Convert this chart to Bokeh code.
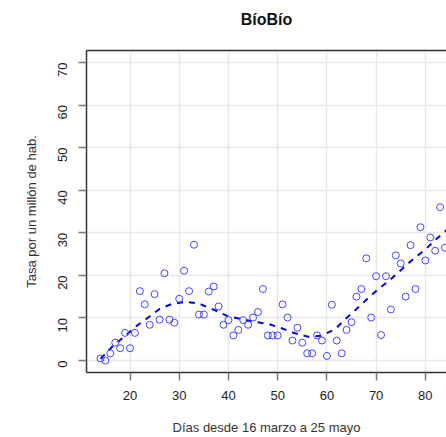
from bokeh.plotting import figure
from bokeh.models import Range1d, LinearAxis, FixedTicker
from bokeh.embed import file_html
from bokeh.resources import INLINE
import math

# Observed daily rate (per million inhabitants), days since 16 March
dias = list(range(14, 85))
tasa = [0.5, 0.0, 1.7, 4.2, 2.9, 6.5, 2.9, 6.5, 16.3, 13.2,
        8.4, 15.6, 9.6, 20.5, 9.6, 8.9, 14.5, 21.1, 16.3, 27.2,
        10.8, 10.8, 16.2, 17.4, 12.7, 8.4, 9.5, 5.9, 7.2, 9.5,
        8.4, 10.1, 11.4, 16.8, 5.9, 5.9, 5.9, 13.2, 10.1, 4.7,
        7.7, 4.2, 1.7, 1.7, 5.9, 4.7, 1.1, 13.1, 4.7, 1.7,
        7.2, 9.0, 15.0, 16.8, 24.0, 10.1, 19.8, 6.0, 19.8, 12.0,
        24.7, 22.8, 15.0, 27.1, 16.8, 31.3, 23.5, 28.9, 25.8, 36.0,
        26.5]

# Smoothed trend
suave_x = [14.0, 16.6, 18.6, 21.4, 23.7, 26.0, 28.5, 31.5, 34.2, 36.9,
           39.7, 42.7, 45.4, 48.1, 50.8, 53.5, 56.2, 58.8, 61.7, 64.0,
           66.4, 68.4, 70.5, 72.8, 74.9, 77.6, 80.0, 82.3, 84.5]
suave_y = [0.4, 3.5, 5.4, 8.2, 10.1, 12.1, 13.3, 13.8, 13.3, 12.0,
           10.5, 9.7, 9.1, 8.6, 7.6, 6.4, 5.6, 5.8, 7.4, 10.0,
           12.5, 14.7, 16.8, 18.9, 21.1, 23.9, 26.1, 28.6, 30.8]

x_ticks = [20, 30, 40, 50, 60, 70, 80]
y_ticks = [0, 10, 20, 30, 40, 50, 60, 70]
titulo = "BíoBío"

FONT = "Liberation Sans"

p = figure(width=446, height=437, output_backend="svg", toolbar_location=None,
           title=None,
           x_range=Range1d(11.16, 84.3), y_range=Range1d(-2.8, 72.8),
           x_axis_location=None, y_axis_location=None,
           min_border_left=86, min_border_right=0, min_border_top=50,
           min_border_bottom=65)
p.outline_line_color = None
p.background_fill_color = "white"
p.border_fill_color = "white"

# grid
p.xgrid.ticker = FixedTicker(ticks=x_ticks)
p.ygrid.ticker = FixedTicker(ticks=y_ticks)
for g in (p.xgrid, p.ygrid):
    g.grid_line_color = "#e8e8e8"
    g.grid_line_width = 1.5

# axes
xa = LinearAxis(ticker=FixedTicker(ticks=x_ticks), axis_label="Días desde 16 marzo a 25 mayo")
ya = LinearAxis(ticker=FixedTicker(ticks=y_ticks), axis_label="Tasa por un millón de hab.")
for ax in (xa, ya):
    ax.axis_line_color = "#333333"
    ax.axis_line_width = 1.5
    ax.major_tick_line_color = "#777777"
    ax.major_tick_line_width = 1.5
    ax.major_tick_out = 8
    ax.major_tick_in = 0
    ax.minor_tick_line_color = None
    ax.major_label_text_font = FONT
    ax.major_label_text_font_size = "13px"
    ax.major_label_text_color = "#222222"
    ax.axis_label_text_font = FONT
    ax.axis_label_text_font_size = "13px"
    ax.axis_label_text_font_style = "normal"
    ax.axis_label_text_color = "#333333"
xa.major_label_standoff = 10
xa.axis_label_standoff = 17
ya.major_label_orientation = math.pi / 2
ya.major_label_standoff = 16
ya.axis_label_standoff = 12
p.add_layout(xa, "below")
p.add_layout(ya, "left")

# top frame line
top = LinearAxis(ticker=FixedTicker(ticks=[]), major_label_text_font_size="0px",
                 major_label_standoff=0, major_tick_out=0, major_tick_in=0)
top.axis_line_color = "#333333"
top.axis_line_width = 1.5
top.major_tick_line_color = None
top.minor_tick_line_color = None
p.add_layout(top, "above")

# title as an (invisible-line) axis label above the frame
tit = LinearAxis(ticker=FixedTicker(ticks=[]), major_label_text_font_size="0px",
                 major_label_standoff=0, major_tick_out=0, major_tick_in=0,
                 axis_label=titulo)
tit.axis_line_color = None
tit.major_tick_line_color = None
tit.minor_tick_line_color = None
tit.axis_label_text_font = FONT
tit.axis_label_text_font_size = "16px"
tit.axis_label_text_font_style = "bold"
tit.axis_label_text_color = "#111111"
tit.axis_label_standoff = 23
p.add_layout(tit, "above")

p.line(suave_x, suave_y, line_color="#0000ee", line_width=2, line_dash="6 6")
p.scatter(dias, tasa, size=7, marker="circle", fill_color=None,
          line_color="#4444ff", line_width=1)

open("out.html", "w").write(file_html(p, INLINE))
